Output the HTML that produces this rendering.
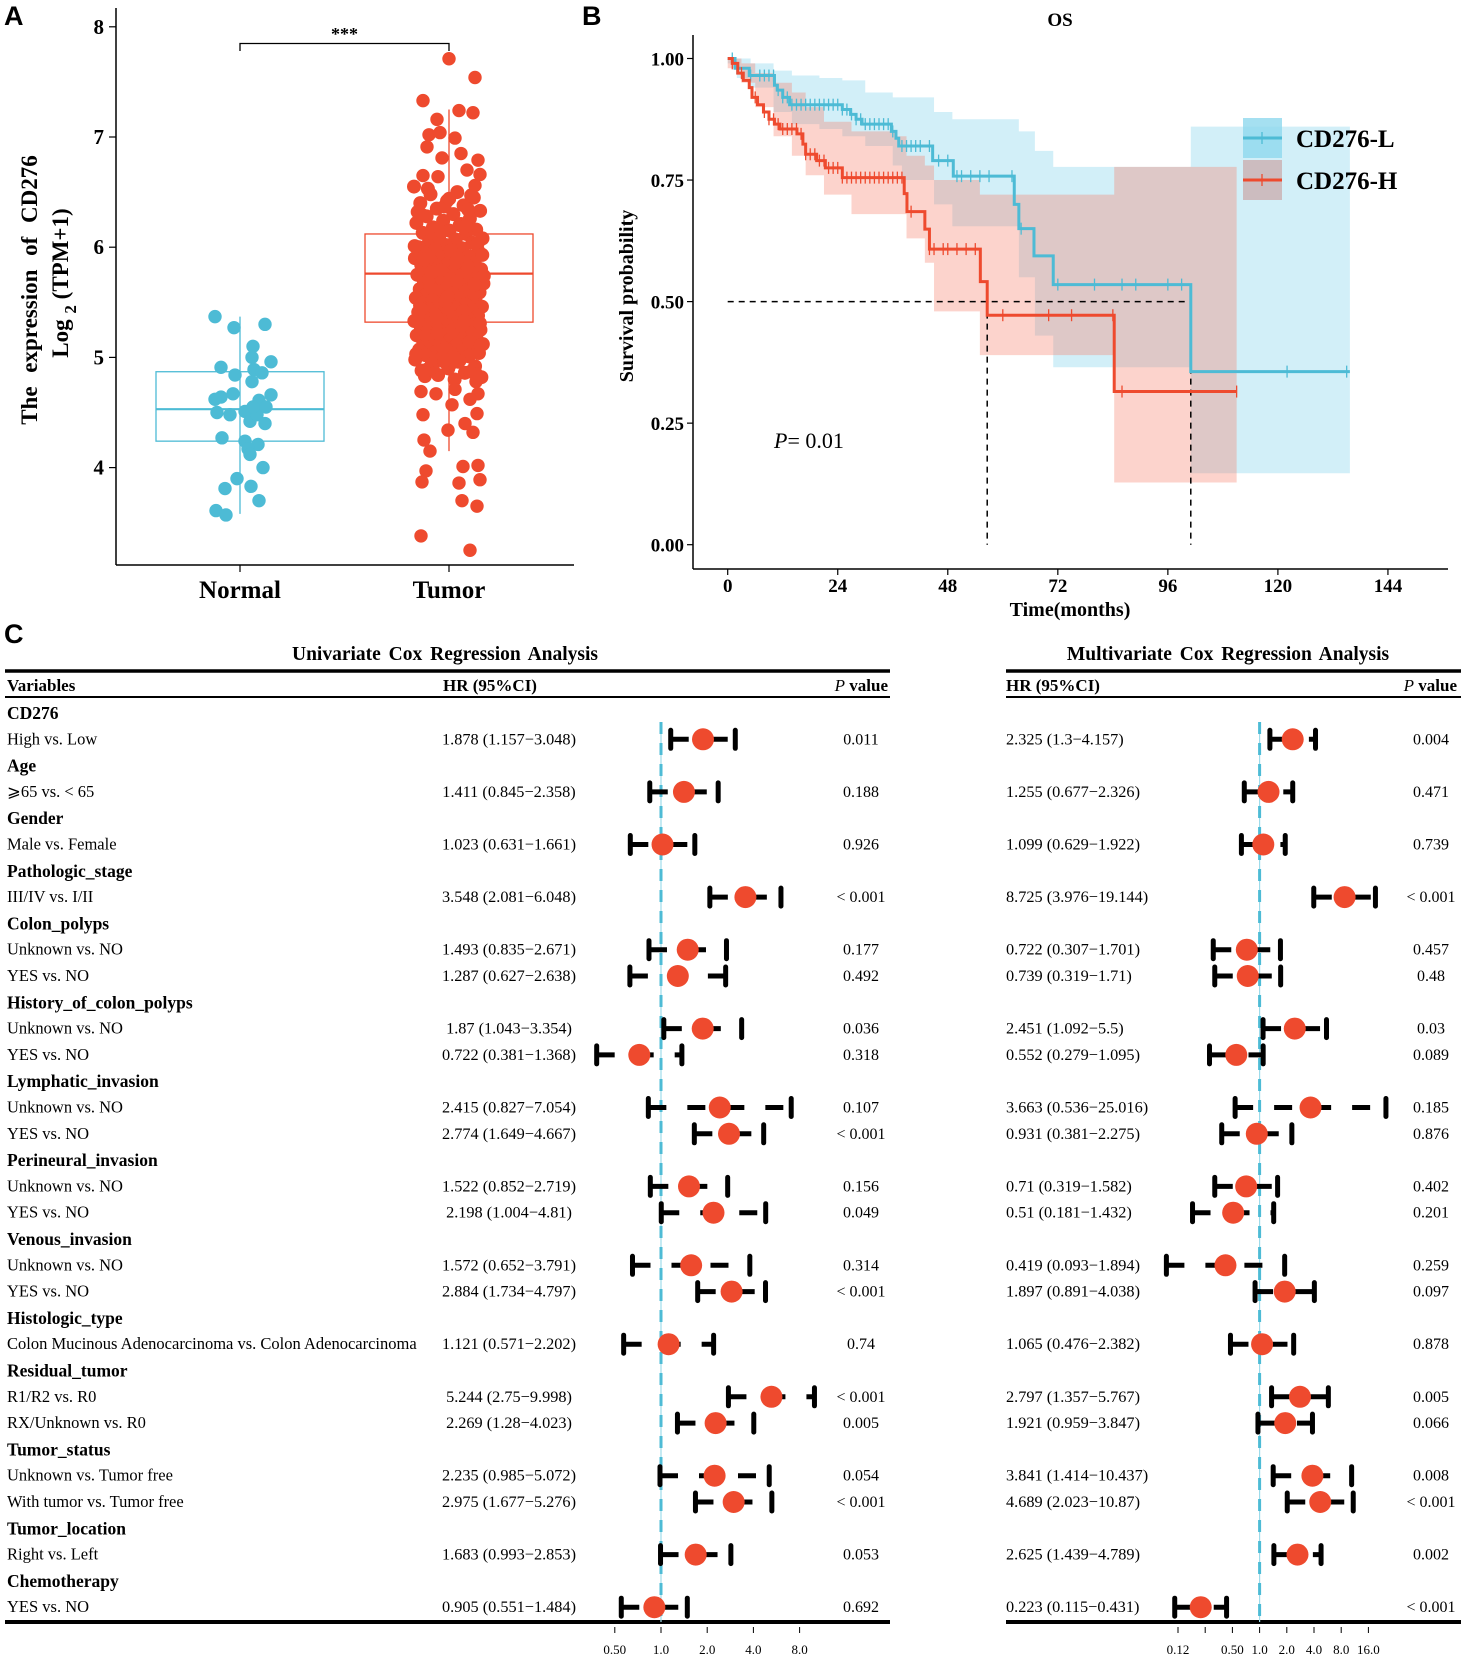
<!DOCTYPE html>
<html><head><meta charset="utf-8">
<style>
html,body{margin:0;padding:0;background:#fff;}
svg{display:block;}
text{font-family:"Liberation Serif","DejaVu Serif",serif;}
.lbl{font-family:"Liberation Sans",sans-serif;font-weight:bold;font-size:27px;}
</style></head>
<body>
<svg id="fig" width="1464" height="1659" viewBox="0 0 1464 1659" xmlns="http://www.w3.org/2000/svg">
<rect width="1464" height="1659" fill="#fff"/>
<text class="lbl" x="4" y="25">A</text>
<text class="lbl" x="582" y="25">B</text>
<text class="lbl" x="4" y="643">C</text>
<g id="pa"></g>
<g id="pb"></g>
<g id="pc"></g>
</svg>
<script>
// ---------- Panel A data ----------
const groupsA = ["Normal","Tumor"];
const yTicksA = [4,5,6,7,8];
const normalVals = [5.37,5.27,5.30,5.10,5.0,4.96,4.91,4.89,4.86,4.84,4.78,4.67,4.64,4.62,4.66,4.61,4.48,4.5,4.51,4.42,4.48,4.55,4.40,4.55,4.27,4.24,4.21,4.17,4.12,4.0,3.90,3.81,3.83,3.70,3.61,3.57];
const normalJit = [-25,-6,25,13,12,31,-19,14,22,-5,12,-7,-19,-25,31,19,-10,-23,5,10,17,26,25,13,-18,5,18,8,10,23,-3,-15,11,19,-24,-14];
const tumorOutliers = [7.71,7.54,7.33,7.24,7.22,7.16,7.02,7.04,6.99,6.91,6.85,6.81,6.79,6.66,6.65,6.64,6.70,6.56,4.48,4.57,4.34,4.25,4.15,4.40,4.32,4.49,4.67,3.97,3.87,4.01,4.02,3.86,3.89,3.70,3.65,3.38,3.25,4.69,4.67,4.87,4.96,4.87,4.78,4.71,4.62];
const tumorOutJit = [0,26,-26,10,24,-12,-20,-9,6,-22,12,-7,29,31,-26,-11,18,26,-26,3,-1,-25,-19,16,24,28,29,-23,-27,14,29,10,31,13,28,-28,21,-28,-13,-24,-5,21,27,6,21];
const tumorDense = [6.55,6.5,6.48,6.45,6.42,6.4,6.38,6.35,6.33,6.3,6.28,6.26,6.24,6.22,6.2,6.18,6.16,6.15,6.13,6.12,6.1,6.08,6.07,6.05,6.04,6.02,6.0,5.99,5.98,5.96,5.95,5.94,5.92,5.91,5.9,5.88,5.87,5.86,5.85,5.84,5.82,5.81,5.8,5.79,5.78,5.77,5.76,5.75,5.74,5.73,5.72,5.71,5.7,5.69,5.68,5.67,5.66,5.65,5.64,5.63,5.62,5.61,5.6,5.59,5.58,5.57,5.56,5.55,5.54,5.53,5.52,5.51,5.5,5.49,5.48,5.47,5.46,5.45,5.44,5.43,5.42,5.41,5.4,5.39,5.38,5.37,5.36,5.35,5.34,5.33,5.32,5.31,5.3,5.29,5.28,5.27,5.26,5.25,5.24,5.23,5.22,5.21,5.2,5.19,5.18,5.17,5.16,5.15,5.14,5.13,5.12,5.11,5.1,5.09,5.08,5.07,5.06,5.05,5.04,5.03,5.02,5.01,5.0,4.98,4.96,4.94,4.92,4.9,4.88,4.86,4.84,4.82,4.8,6.53,6.47,6.37,6.32,6.21,6.11,6.03,5.97,5.89,5.83,5.79,5.74,5.69,5.64,5.58,5.53,5.47,5.42,5.36,5.31,5.25,5.2,5.14,5.09,5.03,4.97,4.91,4.85,6.44,6.29,6.19,6.09,5.93,5.86,5.71,5.61,5.51,5.39,5.29,5.17,5.06,4.95,4.83,6.34,6.14,6.01,5.9,5.77,5.66,5.55,5.44,5.33,5.22,5.11,5.0,4.89];
const boxStats = [ {lo:3.58,q1:4.24,med:4.53,q3:4.87,hi:5.37}, {lo:4.15,q1:5.32,med:5.76,q3:6.12,hi:7.25} ];

// ---------- Panel B data ----------
const xTicksB = [0,24,48,72,96,120,144];
const yTicksB = [0,0.25,0.5,0.75,1.0];
const yTickLabB = ["0.00","0.25","0.50","0.75","1.00"];
const lowT = [0,1.6,4.7,10.2,10.8,12,13.5,25,26.8,28,29.3,35.7,36.7,37.3,44.7,49.2,62.5,63.5,66.8,71,101];
const lowS = [1.0,0.98,0.965,0.945,0.935,0.92,0.905,0.895,0.885,0.875,0.865,0.85,0.836,0.82,0.79,0.758,0.70,0.65,0.594,0.535,0.356];
const lowEnd = 135.7;
const highT = [0,1,2.2,3.4,4.7,5.3,6.5,7.8,9,10.2,11.4,15.1,16.4,17,19.4,21.3,25,38.5,39.1,43,44,55.1,56.6,84.3];
const highS = [1.0,0.99,0.97,0.955,0.94,0.92,0.905,0.89,0.875,0.865,0.855,0.845,0.824,0.803,0.79,0.775,0.755,0.722,0.685,0.649,0.608,0.541,0.472,0.315];
const highEnd = 111;
const lowBandT = [0,2,5,10,14,20,25,30,36,38,45,49,63.5,67,71,101];
const lowBandU = [1,1,0.99,0.975,0.965,0.96,0.955,0.93,0.92,0.92,0.89,0.875,0.85,0.81,0.777,0.86];
const lowBandL = [0.99,0.96,0.94,0.89,0.865,0.855,0.84,0.82,0.78,0.75,0.70,0.655,0.55,0.43,0.365,0.147];
const highBandT = [0,3,6,10,14,17,21,27,37,39,43,45,55,84.3];
const highBandU = [1,0.99,0.97,0.95,0.93,0.90,0.87,0.85,0.84,0.80,0.78,0.75,0.72,0.777];
const highBandL = [0.98,0.95,0.90,0.84,0.80,0.76,0.72,0.68,0.68,0.63,0.58,0.48,0.39,0.128];
const lowCens = [1,2,5,7,8,9,10,11,12,13,14,15,16,17,18,19,20,21,22,23,24,25,26,27,28,29,30,31,32,33,34,35,36,38,39,40,41,42,44,46,48,50,51,53,55,57,62,64,72,80,86,89,96,99,122,135];
const highCens = [1,3,6,8,9,10,11,12,13,14,15,16,17,18,19,20,21,22,23,24,25,26,27,28,29,30,31,32,33,34,35,36,37,38,40,44,45,47,48,50,52,54,60,70,75,84,86,111];
const medianT = [56.6,101];

// ---------- Panel C data ----------
const rowLabels = ["CD276","High vs. Low","Age","\u2a7e65 vs. < 65","Gender","Male vs. Female","Pathologic_stage","III/IV vs. I/II","Colon_polyps","Unknown vs. NO","YES vs. NO","History_of_colon_polyps","Unknown vs. NO","YES vs. NO","Lymphatic_invasion","Unknown vs. NO","YES vs. NO","Perineural_invasion","Unknown vs. NO","YES vs. NO","Venous_invasion","Unknown vs. NO","YES vs. NO","Histologic_type","Colon Mucinous Adenocarcinoma vs. Colon Adenocarcinoma","Residual_tumor","R1/R2 vs. R0","RX/Unknown vs. R0","Tumor_status","Unknown vs. Tumor free","With tumor vs. Tumor free","Tumor_location","Right vs. Left","Chemotherapy","YES vs. NO"];
const isHeader = [1,0,1,0,1,0,1,0,1,0,0,1,0,0,1,0,0,1,0,0,1,0,0,1,0,1,0,0,1,0,0,1,0,1,0];
const uniHR = [null,1.878,null,1.411,null,1.023,null,3.548,null,1.493,1.287,null,1.87,0.722,null,2.415,2.774,null,1.522,2.198,null,1.572,2.884,null,1.121,null,5.244,2.269,null,2.235,2.975,null,1.683,null,0.905];
const uniLo = [null,1.157,null,0.845,null,0.631,null,2.081,null,0.835,0.627,null,1.043,0.381,null,0.827,1.649,null,0.852,1.004,null,0.652,1.734,null,0.571,null,2.75,1.28,null,0.985,1.677,null,0.993,null,0.551];
const uniHi = [null,3.048,null,2.358,null,1.661,null,6.048,null,2.671,2.638,null,3.354,1.368,null,7.054,4.667,null,2.719,4.81,null,3.791,4.797,null,2.202,null,9.998,4.023,null,5.072,5.276,null,2.853,null,1.484];
const uniP = ["","0.011","","0.188","","0.926","","< 0.001","","0.177","0.492","","0.036","0.318","","0.107","< 0.001","","0.156","0.049","","0.314","< 0.001","","0.74","","< 0.001","0.005","","0.054","< 0.001","","0.053","","0.692"];
const multHR = [null,2.325,null,1.255,null,1.099,null,8.725,null,0.722,0.739,null,2.451,0.552,null,3.663,0.931,null,0.71,0.51,null,0.419,1.897,null,1.065,null,2.797,1.921,null,3.841,4.689,null,2.625,null,0.223];
const multLo = [null,1.3,null,0.677,null,0.629,null,3.976,null,0.307,0.319,null,1.092,0.279,null,0.536,0.381,null,0.319,0.181,null,0.093,0.891,null,0.476,null,1.357,0.959,null,1.414,2.023,null,1.439,null,0.115];
const multHi = [null,4.157,null,2.326,null,1.922,null,19.144,null,1.701,1.71,null,5.5,1.095,null,25.016,2.275,null,1.582,1.432,null,1.894,4.038,null,2.382,null,5.767,3.847,null,10.437,10.87,null,4.789,null,0.431];
const multP = ["","0.004","","0.471","","0.739","","< 0.001","","0.457","0.48","","0.03","0.089","","0.185","0.876","","0.402","0.201","","0.259","0.097","","0.878","","0.005","0.066","","0.008","< 0.001","","0.002","","< 0.001"];
const uniTicks = [0.5,1,2,4,8];
const uniTickLab = ["0.50","1.0","2.0","4.0","8.0"];
const multTicks = [0.125,0.25,0.5,1,2,4,8,16];
const multTickLab = ["0.12","","0.50","1.0","2.0","4.0","8.0","16.0"];

const NS="http://www.w3.org/2000/svg";
function mk(parent,tag,attrs,txt){const e=document.createElementNS(NS,tag);for(const k in attrs)e.setAttribute(k,attrs[k]);if(txt!==undefined)e.textContent=txt;parent.appendChild(e);return e;}
const RED="#EE4A2E", BLUE="#4DBBD5";

// ===== Panel A =====
(function(){
const g=document.getElementById('pa');
const Y=v=>467.6-(v-4)*110.2;
const gx=[240,449];
let e;
e=mk(g,'line',{x1:116,y1:8,x2:116,y2:565,stroke:'#000','stroke-width':1.5});
 
e=mk(g,'line',{x1:116,y1:565,x2:574,y2:565,stroke:'#000','stroke-width':1.5});
 
yTicksA.forEach(t=>{
  e=mk(g,'line',{x1:109,y1:Y(t),x2:116,y2:Y(t),stroke:'#000','stroke-width':1.2});
   
  e=mk(g,'text',{x:104,y:Y(t)+7,'text-anchor':'end','font-size':21,'font-weight':'bold'},String(t));
   
});
groupsA.forEach((n,i)=>{
  e=mk(g,'line',{x1:gx[i],y1:565,x2:gx[i],y2:572,stroke:'#000','stroke-width':1.2});
   
  e=mk(g,'text',{x:gx[i],y:598,'text-anchor':'middle','font-size':25,'font-weight':'bold'},n);
   
});
e=mk(g,'text',{transform:'translate(37,290) rotate(-90)','text-anchor':'middle','font-size':23,'font-weight':'bold','word-spacing':8},'The expression of CD276');
 
e=mk(g,'text',{transform:'translate(68,283) rotate(-90)','text-anchor':'middle','font-size':23,'font-weight':'bold'});
 
mk(e,'tspan',{},'Log  ');mk(e,'tspan',{dy:8,'font-size':17},'2');mk(e,'tspan',{dy:-8},'  (TPM+1)');
const cols=["#4DBBD5","#EE4A2E"];
boxStats.forEach((b,i)=>{
  const c=cols[i], x0=gx[i]-84, w=168;
  e=mk(g,'line',{x1:gx[i],y1:Y(b.lo),x2:gx[i],y2:Y(b.hi),stroke:c,'stroke-width':1.3});
   
  e=mk(g,'rect',{x:x0,y:Y(b.q3),width:w,height:Y(b.q1)-Y(b.q3),fill:'none',stroke:c,'stroke-width':1.3});
   
  e=mk(g,'line',{x1:x0,y1:Y(b.med),x2:x0+w,y2:Y(b.med),stroke:c,'stroke-width':2.2});
   
});
normalVals.forEach((v,i)=>{
  e=mk(g,'circle',{cx:gx[0]+normalJit[i],cy:Y(v),r:6.7,fill:cols[0]});
   
});
tumorDense.forEach((v,i)=>{
  const j=((i*0.6180339887)%1)*70-35;
  e=mk(g,'circle',{cx:gx[1]+j,cy:Y(v),r:7,fill:cols[1]});
   
});
tumorOutliers.forEach((v,i)=>{
  e=mk(g,'circle',{cx:gx[1]+tumorOutJit[i],cy:Y(v),r:6.7,fill:cols[1]});
   
});
e=mk(g,'path',{d:`M${gx[0]},51 V43.5 H${gx[1]} V51`,fill:'none',stroke:'#000','stroke-width':1.3});
 
e=mk(g,'text',{x:(gx[0]+gx[1])/2,y:40,'text-anchor':'middle','font-size':18,'font-weight':'bold'},'***');
 
})();

// ===== Panel B =====
(function(){
const g=document.getElementById('pb');
const X=t=>727.7+t*4.585, Y=p=>544.7-p*486.2;
let e;
function bandPath(T,U,L,end){
  let d=`M${X(T[0])},${Y(U[0])}`;
  for(let i=1;i<T.length;i++) d+=` H${X(T[i])} V${Y(U[i])}`;
  d+=` H${X(end)} V${Y(L[L.length-1])}`;
  for(let i=T.length-1;i>=1;i--) d+=` H${X(T[i])} V${Y(L[i-1])}`;
  d+=` H${X(T[0])} Z`; return d;
}
e=mk(g,'path',{d:bandPath(lowBandT,lowBandU,lowBandL,lowEnd),fill:'#8ED8EE','fill-opacity':0.4});
 
e=mk(g,'path',{d:bandPath(highBandT,highBandU,highBandL,highEnd),fill:'#F5806E','fill-opacity':0.35});
 
e=mk(g,'line',{x1:693,y1:35,x2:693,y2:569,stroke:'#000','stroke-width':1.5});
 
e=mk(g,'line',{x1:693,y1:569,x2:1448,y2:569,stroke:'#000','stroke-width':1.5});
 
yTicksB.forEach((t,i)=>{
  e=mk(g,'line',{x1:687,y1:Y(t),x2:693,y2:Y(t),stroke:'#000','stroke-width':1.2});
   
  e=mk(g,'text',{x:684,y:Y(t)+7,'text-anchor':'end','font-size':19,'font-weight':'bold'},yTickLabB[i]);
   
});
xTicksB.forEach(t=>{
  e=mk(g,'line',{x1:X(t),y1:569,x2:X(t),y2:575,stroke:'#000','stroke-width':1.2});
   
  e=mk(g,'text',{x:X(t),y:592,'text-anchor':'middle','font-size':19,'font-weight':'bold'},String(t));
   
});
e=mk(g,'text',{x:1070,y:616,'text-anchor':'middle','font-size':20,'font-weight':'bold'},'Time(months)');
 
e=mk(g,'text',{transform:'translate(633,296) rotate(-90)','text-anchor':'middle','font-size':20,'font-weight':'bold'},'Survival probability');
 
e=mk(g,'text',{x:1060,y:26,'text-anchor':'middle','font-size':19,'font-weight':'bold'},'OS');
 
e=mk(g,'path',{d:`M${X(0)},${Y(0.5)} H${X(medianT[1])} M${X(medianT[0])},${Y(0.5)} V${Y(0)} M${X(medianT[1])},${Y(0.5)} V${Y(0)}`,fill:'none',stroke:'#000','stroke-width':1.5,'stroke-dasharray':'6 5'});
 
function curve(T,S,end){let d=`M${X(T[0])},${Y(S[0])}`;for(let i=1;i<T.length;i++)d+=` H${X(T[i])} V${Y(S[i])}`;d+=` H${X(end)}`;return d;}
function sAt(T,S,t){let s=S[0];for(let i=0;i<T.length;i++)if(T[i]<=t)s=S[i];return s;}
[[lowT,lowS,lowEnd,lowCens,'#4DBBD5','cd276-l'],[highT,highS,highEnd,highCens,'#EE4A2E','cd276-h']].forEach(a=>{
  e=mk(g,'path',{d:curve(a[0],a[1],a[2]),fill:'none',stroke:a[4],'stroke-width':3});
   
  a[3].forEach(t=>{const s=sAt(a[0],a[1],t);
    e=mk(g,'line',{x1:X(t),y1:Y(s)-6,x2:X(t),y2:Y(s)+6,stroke:a[4],'stroke-width':1.3});
     
  });
});
e=mk(g,'text',{x:774,y:448,'font-size':22});
 
mk(e,'tspan',{'font-style':'italic'},'P');mk(e,'tspan',{},'= 0.01');
[['CD276-L','#4DBBD5','#8ED8EE',138],['CD276-H','#EE4A2E','#C9A6A6',180]].forEach((l,i)=>{
  const lg=mk(g,'g',{});
   
  mk(lg,'rect',{x:1243,y:l[3]-20,width:39,height:40,fill:l[2],'fill-opacity':i?0.7:0.8});
  mk(lg,'line',{x1:1243,y1:l[3],x2:1282,y2:l[3],stroke:l[1],'stroke-width':3});
  mk(lg,'line',{x1:1262,y1:l[3]-6,x2:1262,y2:l[3]+6,stroke:l[1],'stroke-width':1.3});
  mk(lg,'text',{x:1296,y:l[3]+9,'font-size':25,'font-weight':'bold'},l[0]);
});
})();

// ===== Panel C =====
(function(){
const g=document.getElementById('pc');
const rowY=i=>713+i*26.3;
const XU=h=>661+Math.log2(h)*46.2, XM=h=>1259.6+Math.log2(h)*27.2;
let e;
e=mk(g,'text',{x:445,y:660,'text-anchor':'middle','font-size':19.5,'font-weight':'bold','word-spacing':3},'Univariate  Cox Regression Analysis');
 
e=mk(g,'text',{x:1228,y:660,'text-anchor':'middle','font-size':19.5,'font-weight':'bold','word-spacing':3},'Multivariate  Cox Regression Analysis');
 
[[5,890],[1006,1461]].forEach((s,k)=>{
  e=mk(g,'line',{x1:s[0],y1:671,x2:s[1],y2:671,stroke:'#000','stroke-width':3.5});
   
  e=mk(g,'line',{x1:s[0],y1:697,x2:s[1],y2:697,stroke:'#000','stroke-width':2});
   
  e=mk(g,'line',{x1:s[0],y1:1622,x2:s[1],y2:1622,stroke:'#000','stroke-width':4});
   
});
const hdr=[[7,'Variables','start'],[443,'HR (95%CI)','start'],[1006,'HR (95%CI)','start']];
hdr.forEach(h=>{e=mk(g,'text',{x:h[0],y:691,'font-size':17,'font-weight':'bold','text-anchor':h[2]},h[1]);
   });
[888,1457].forEach(x=>{e=mk(g,'text',{x:x,y:691,'font-size':17,'font-weight':'bold','text-anchor':'end'});
   
  mk(e,'tspan',{'font-style':'italic','font-weight':'normal'},'P');mk(e,'tspan',{},' value');});
[[661,'uni'],[1259.6,'multi']].forEach(r=>{
  e=mk(g,'line',{x1:r[0],y1:722,x2:r[0],y2:1622,stroke:'#9EDCEB','stroke-width':1.2});
   
  e=mk(g,'line',{x1:r[0],y1:722,x2:r[0],y2:1622,stroke:BLUE,'stroke-width':3,'stroke-dasharray':'12 9'});
   
});
function bar(X,h,lo,hi,y,nm){
  const gg=mk(g,'g',{});
   
  mk(gg,'line',{x1:X(lo),y1:y,x2:X(hi),y2:y,stroke:'#000','stroke-width':5,'stroke-dasharray':'18 21'});
  mk(gg,'line',{x1:X(lo),y1:y-9,x2:X(lo),y2:y+9,stroke:'#000','stroke-width':5,'stroke-linecap':'round'});
  mk(gg,'line',{x1:X(hi),y1:y-9,x2:X(hi),y2:y+9,stroke:'#000','stroke-width':5,'stroke-linecap':'round'});
  mk(gg,'circle',{cx:X(h),cy:y,r:11,fill:RED});
}
rowLabels.forEach((lab,i)=>{
  const y=rowY(i);
  if(isHeader[i]){
    e=mk(g,'text',{x:7,y:y+6,'font-size':17.5,'font-weight':'bold'},lab);
     
    return;
  }
  e=mk(g,'text',{x:7,y:y+5,'font-size':16.5},lab);
   
  e=mk(g,'text',{x:509,y:y+5,'font-size':16.3,'text-anchor':'middle'},`${uniHR[i]} (${uniLo[i]}\u2212${uniHi[i]})`);
   
  e=mk(g,'text',{x:861,y:y+5,'font-size':16,'text-anchor':'middle'},uniP[i]);
   
  e=mk(g,'text',{x:1006,y:y+5,'font-size':16.3},`${multHR[i]} (${multLo[i]}\u2212${multHi[i]})`);
   
  e=mk(g,'text',{x:1431,y:y+5,'font-size':16,'text-anchor':'middle'},multP[i]);
   
  bar(XU,uniHR[i],uniLo[i],uniHi[i],y,'uni-forest-row');
  bar(XM,multHR[i],multLo[i],multHi[i],y,'multi-forest-row');
});
[[uniTicks,uniTickLab,XU,'uni'],[multTicks,multTickLab,XM,'multi']].forEach(a=>{
  a[0].forEach((t,i)=>{
    e=mk(g,'line',{x1:a[2](t),y1:1627,x2:a[2](t),y2:1633,stroke:'#000','stroke-width':1});
     
    e=mk(g,'text',{x:a[2](t),y:1654,'font-size':13,'text-anchor':'middle'},a[1][i]);
     
  });
});
})();
</script>
</body></html>
